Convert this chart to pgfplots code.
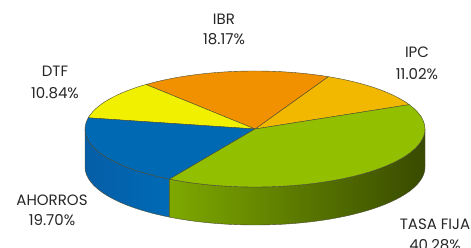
\documentclass[border=0pt]{standalone}
\usepackage{pgfplots}
\usepackage{pgfplotstable}
\pgfplotsset{compat=1.18}
\usepackage{fontspec}
\setmainfont{Poppins}

\definecolor{slice0}{HTML}{F2B800}% IPC
\definecolor{slice1}{HTML}{F29100}% IBR
\definecolor{slice2}{HTML}{F0F000}% DTF
\definecolor{slice3}{HTML}{0069B4}% AHORROS
\definecolor{slice4}{HTML}{92C000}% TASA FIJA
\definecolor{ahoL}{HTML}{055EA6}
\definecolor{ahoR}{HTML}{006AB6}
\definecolor{tasL}{HTML}{7EA900}
\definecolor{tasM}{HTML}{5F8000}
\definecolor{tasR}{HTML}{384A00}
\definecolor{edge}{HTML}{4A4A30}
\definecolor{txt}{HTML}{262626}

% label, value, label position (x, baseline of first line, baseline of second line)
\pgfplotstableread[col sep=comma]{
label,value,lx,ly,ly2
IPC,11.02,417,190,168
IBR,18.17,224,223,203
DTF,10.84,55,171,149
AHORROS,19.70,52,42,22
TASA FIJA,40.28,435,18,-3
}\piedata

\begin{document}
\def\cum{24.8}%
\pgfplotsforeachungrouped \i in {0,...,4}{%
  \pgfplotstablegetelem{\i}{value}\of\piedata
  \expandafter\xdef\csname sV\i\endcsname{\pgfplotsretval}%
  \pgfmathsetmacro\tmpB{\cum+3.6*\pgfplotsretval}%
  \expandafter\xdef\csname sA\i\endcsname{\cum}%
  \expandafter\xdef\csname sB\i\endcsname{\tmpB}%
  \xdef\cum{\tmpB}%
  \pgfplotstablegetelem{\i}{label}\of\piedata
  \expandafter\xdef\csname sL\i\endcsname{\pgfplotsretval}%
  \pgfplotstablegetelem{\i}{lx}\of\piedata
  \expandafter\xdef\csname sX\i\endcsname{\pgfplotsretval}%
  \pgfplotstablegetelem{\i}{ly}\of\piedata
  \expandafter\xdef\csname sY\i\endcsname{\pgfplotsretval}%
  \pgfplotstablegetelem{\i}{ly2}\of\piedata
  \expandafter\xdef\csname sZ\i\endcsname{\pgfplotsretval}%
}%
\xdef\angAT{\csname sB3\endcsname}%
\begin{tikzpicture}
\begin{axis}[hide axis, scale only axis, width=471pt, height=248pt,
  xmin=0, xmax=471, ymin=0, ymax=248, clip=false]
% side walls
\shade[left color=ahoL, right color=ahoR, draw=edge, line width=0.4pt]
  (axis cs:85,119) arc[start angle=180, end angle=\angAT, x radius=170pt, y radius=58pt]
  -- ++(0pt,-38pt) arc[start angle=\angAT, end angle=180, x radius=170pt, y radius=58pt] -- cycle;
\shade[left color=tasL, middle color=tasM, right color=tasR, draw=edge, line width=0.4pt]
  (axis cs:{255+170*cos(\angAT)},{119+58*sin(\angAT)}) arc[start angle=\angAT, end angle=360, x radius=170pt, y radius=58pt]
  -- ++(0pt,-38pt) arc[start angle=360, end angle=\angAT, x radius=170pt, y radius=58pt] -- cycle;
% top faces
\pgfplotsinvokeforeach{0,...,4}{%
  \filldraw[fill=slice#1, draw=edge, line width=0.4pt, line join=round]
    (axis cs:255,119) -- (axis cs:{255+170*cos(\csname sA#1\endcsname)},{119+58*sin(\csname sA#1\endcsname)})
    arc[start angle=\csname sA#1\endcsname, end angle=\csname sB#1\endcsname, x radius=170pt, y radius=58pt] -- cycle;
  \node[anchor=base, text=txt, font=\fontsize{15}{18}\selectfont, inner sep=0pt]
    at (axis cs:\csname sX#1\endcsname,\csname sY#1\endcsname) {\csname sL#1\endcsname};
  \node[anchor=base, text=txt, font=\fontsize{15}{18}\selectfont, inner sep=0pt]
    at (axis cs:\csname sX#1\endcsname,\csname sZ#1\endcsname) {\csname sV#1\endcsname\%};
}
\end{axis}
\pgfresetboundingbox
\useasboundingbox (current axis.south west) rectangle (current axis.north east);
\end{tikzpicture}
\end{document}
